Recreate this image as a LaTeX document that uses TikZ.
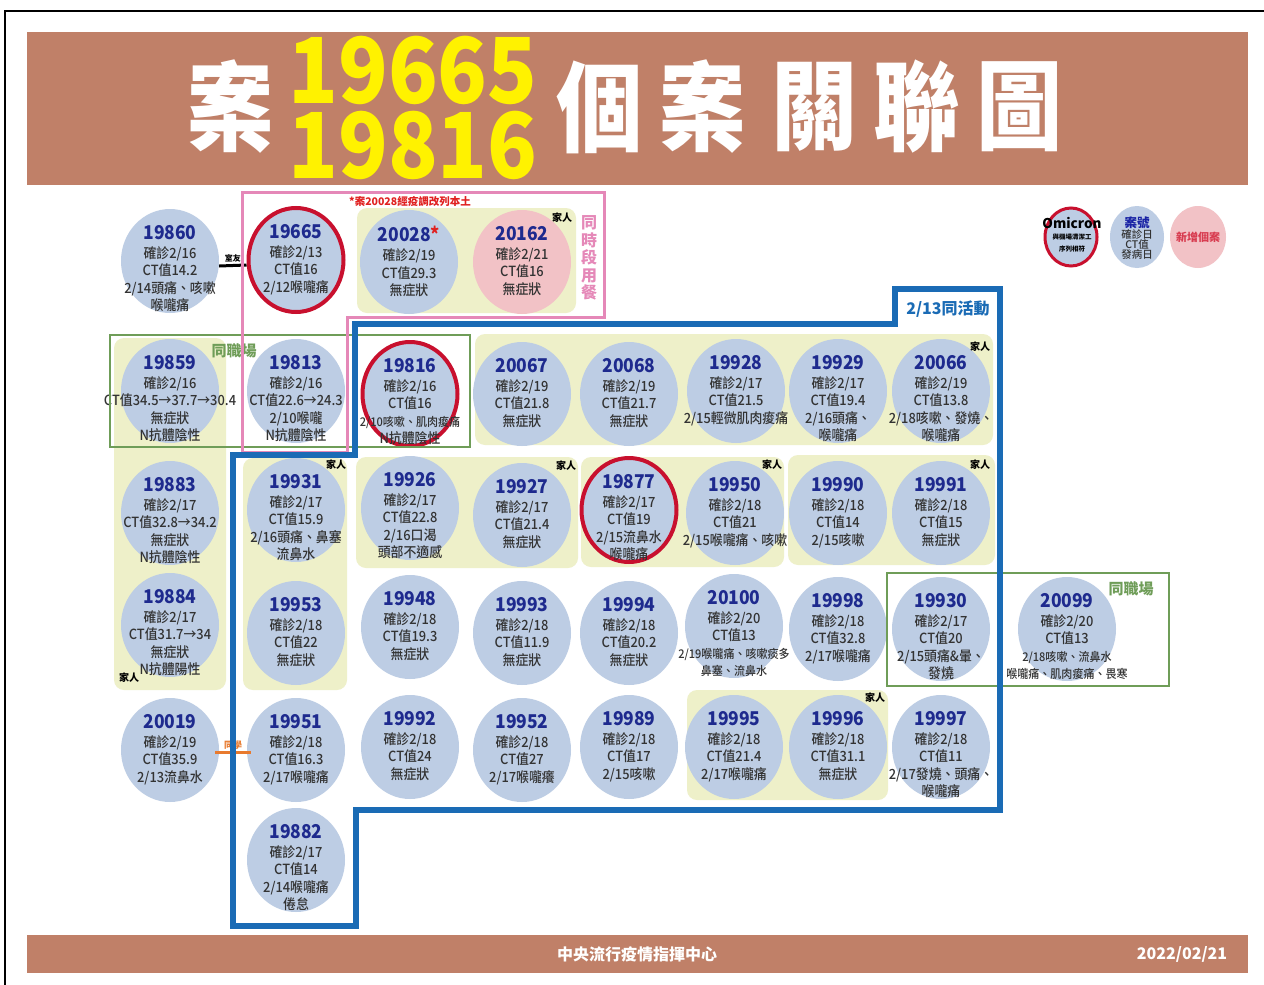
\documentclass[tikz,border=0pt]{standalone}
\usepackage{fontspec}
\newfontfamily\cjk{Noto Sans CJK TC}
\newfontfamily\cjkm{Noto Sans CJK TC Medium}
\usetikzlibrary{shapes.geometric,calc}
\definecolor{bandbrown}{HTML}{C08068}
\definecolor{ttlyellow}{HTML}{FFF200}
\definecolor{bubblue}{HTML}{BDCDE4}
\definecolor{numblue}{HTML}{1E2A8E}
\definecolor{txtgray}{HTML}{333333}
\definecolor{ybg}{HTML}{EEF0C9}
\definecolor{pinkfill}{HTML}{F2C2C6}
\definecolor{ringred}{HTML}{C8102E}
\definecolor{pinkline}{HTML}{E588B8}
\definecolor{blueline}{HTML}{1A6BB5}
\definecolor{grnline}{HTML}{6F9D58}
\definecolor{orangec}{HTML}{E87A2E}
\definecolor{starred}{HTML}{E02020}
\definecolor{newred}{HTML}{D83C50}
\newcommand\numf{\cjk\fontsize{19}{19}\selectfont\bfseries\color{numblue}}
\newcommand\sm{\fontsize{12}{15}\selectfont}
\tikzset{
  bub/.style={ellipse, fill=bubblue, minimum width=98pt, minimum height=104pt, inner sep=0pt},
  ringed/.style={draw=ringred, line width=4pt, minimum width=95pt, minimum height=104pt},
  ctx/.style={anchor=north, align=center, inner sep=0pt, xscale=0.92, text=txtgray,
    font=\cjkm\fontsize{14}{17.5}\selectfont},
  ybox/.style={fill=ybg, rounded corners=10pt},
  fam/.style={font=\cjk\bfseries\fontsize{10}{10}\selectfont, inner sep=0pt, text=black},
  grnbox/.style={draw=grnline, line width=2.5pt},
  grnlab/.style={font=\cjk\bfseries\fontsize{15}{15}\selectfont, text=grnline, inner sep=0pt},
  ttl/.style={font=\cjk\bfseries\fontsize{98}{98}\selectfont, inner sep=0pt, xscale=0.88, text=white},
  ttlnum/.style={font=\cjk\bfseries\fontsize{91}{91}\selectfont, inner sep=0pt, anchor=base, text=ttlyellow, xscale=0.9},
}
\newcommand\cs[6][]{%
  \node[bub,#1] (c#2) at (#3,#4) {};
  \node[ctx] (c#2t) at ($(c#2.center)+(0,-36)$) {{\numf #5}\\[1.5pt]#6};
}
\begin{document}
\begin{tikzpicture}[x=1pt,y=-1pt,font=\cjk]
\useasboundingbox (0,0) rectangle (1264,985);
\fill[white] (0,0) rectangle (1264,985);
% frame
\draw[line width=2pt] (5,985) -- (5,11) -- (1264,11);
% title band
\fill[bandbrown] (27,32) rectangle (1248,185);
\node[ttl] (tA) at (231,107) {案};
\node[ttlnum] (tn1) at (413,103) {19665};
\node[ttlnum] (tn2) at (413,178) {19816};
\node[ttl] (tB) at (600,107) {個};
\node[ttl] (tC) at (703,107) {案};
\node[ttl] (tD) at (815,107) {關};
\node[ttl] (tE) at (917,107) {聯};
\node[ttl] (tF) at (1020,107) {圖};
% footer
\fill[bandbrown] (27,935) rectangle (1248,973);
\node[font=\cjk\bfseries\fontsize{16}{16}\selectfont, text=white, inner sep=0pt] (foot1) at (637,954) {中央流行疫情指揮中心};
\node[font=\cjk\bfseries\fontsize{16}{16}\selectfont, text=white, inner sep=0pt] (foot2) at (1182,954) {2022/02/21};
% yellow backgrounds
\fill[ybox] (357,208) rectangle (576,313);
\fill[ybox] (114,338) rectangle (226,690);
\fill[ybox] (475,334) rectangle (993,445);
\fill[ybox] (243,458) rectangle (347,690);
\fill[ybox] (356,457) rectangle (578,568);
\fill[ybox] (581,457) rectangle (784,567);
\fill[ybox] (788,455) rectangle (995,565);
\fill[ybox] (687,690) rectangle (888,800);
% row 1
\cs{19860}{170}{261}{19860}{確診2/16\\CT值14.2\\2/14頭痛、咳嗽\\喉嚨痛}
\cs[ringed]{19665}{296}{260}{19665}{確診2/13\\CT值16\\2/12喉嚨痛}
\cs{20028}{409}{262}{20028\textcolor{starred}{*}}{確診2/19\\CT值29.3\\無症狀}
\cs[fill=pinkfill]{20162}{522}{262}{20162}{確診2/21\\CT值16\\無症狀}
% row 2
\cs{19859}{170}{391}{19859}{確診2/16\\CT值34.5→37.7→30.4\\無症狀\\N抗體陰性}
\cs{19813}{296}{391}{19813}{確診2/16\\CT值22.6→24.3\\2/10喉嚨\\N抗體陰性}
\cs[ringed]{19816}{410}{394}{19816}{確診2/16\\CT值16\\{\sm 2/10咳嗽、肌肉痠痛}\\N抗體陰性}
\cs{20067}{522}{394}{20067}{確診2/19\\CT值21.8\\無症狀}
\cs{20068}{629}{394}{20068}{確診2/19\\CT值21.7\\無症狀}
\cs{19928}{736}{391}{19928}{確診2/17\\CT值21.5\\2/15輕微肌肉痠痛}
\cs{19929}{838}{391}{19929}{確診2/17\\CT值19.4\\2/16頭痛、\\喉嚨痛}
\cs{20066}{941}{391}{20066}{確診2/19\\CT值13.8\\2/18咳嗽、發燒、\\喉嚨痛}
% row 3
\cs{19883}{170}{513}{19883}{確診2/17\\CT值32.8→34.2\\無症狀\\N抗體陰性}
\cs{19931}{296}{510}{19931}{確診2/17\\CT值15.9\\2/16頭痛、鼻塞\\流鼻水}
\cs{19926}{410}{508}{19926}{確診2/17\\CT值22.8\\2/16口渴\\頭部不適感}
\cs{19927}{522}{515}{19927}{確診2/17\\CT值21.4\\無症狀}
\cs[ringed]{19877}{629}{510}{19877}{確診2/17\\CT值19\\2/15流鼻水\\喉嚨痛}
\cs{19950}{735}{513}{19950}{確診2/18\\CT值21\\2/15喉嚨痛、咳嗽}
\cs{19990}{838}{513}{19990}{確診2/18\\CT值14\\2/15咳嗽}
\cs{19991}{941}{513}{19991}{確診2/18\\CT值15\\無症狀}
% row 4
\cs{19884}{170}{625}{19884}{確診2/17\\CT值31.7→34\\無症狀\\N抗體陽性}
\cs{19953}{296}{633}{19953}{確診2/18\\CT值22\\無症狀}
\cs{19948}{410}{627}{19948}{確診2/18\\CT值19.3\\無症狀}
\cs{19993}{522}{633}{19993}{確診2/18\\CT值11.9\\無症狀}
\cs{19994}{629}{633}{19994}{確診2/18\\CT值20.2\\無症狀}
\cs{20100}{734}{626}{20100}{確診2/20\\CT值13\\{\sm 2/19喉嚨痛、咳嗽痰多}\\{\sm 鼻塞、流鼻水}}
\cs{19998}{838}{629}{19998}{確診2/18\\CT值32.8\\2/17喉嚨痛}
\cs{19930}{941}{629}{19930}{確診2/17\\CT值20\\2/15頭痛\&暈、\\發燒}
\cs{20099}{1067}{629}{20099}{確診2/20\\CT值13\\{\sm 2/18咳嗽、流鼻水}\\{\sm 喉嚨痛、肌肉痠痛、畏寒}}
% row 5
\cs{20019}{170}{750}{20019}{確診2/19\\CT值35.9\\2/13流鼻水}
\cs{19951}{296}{750}{19951}{確診2/18\\CT值16.3\\2/17喉嚨痛}
\cs{19992}{410}{747}{19992}{確診2/18\\CT值24\\無症狀}
\cs{19952}{522}{750}{19952}{確診2/18\\CT值27\\2/17喉嚨癢}
\cs{19989}{629}{747}{19989}{確診2/18\\CT值17\\2/15咳嗽}
\cs{19995}{734}{747}{19995}{確診2/18\\CT值21.4\\2/17喉嚨痛}
\cs{19996}{838}{747}{19996}{確診2/18\\CT值31.1\\無症狀}
\cs{19997}{941}{747}{19997}{確診2/18\\CT值11\\2/17發燒、頭痛、\\喉嚨痛}
% row 6
\cs{19882}{296}{860}{19882}{確診2/17\\CT值14\\2/14喉嚨痛\\倦怠}
% legend
\node[bub, ringed, minimum width=52pt, minimum height=58pt, line width=3pt] (lg1) at (1071,237) {};
\node[align=center, inner sep=0pt, text=black] (lg1t) at (1072,235)
  {{\bfseries\fontsize{13.5}{13.5}\selectfont Omicron}\\[-1pt]{\bfseries\fontsize{6.5}{8.5}\selectfont 與機場清潔工}\\{\bfseries\fontsize{6.5}{8.5}\selectfont 序列相符}};
\node[bub, minimum width=54pt, minimum height=62pt] (lg2) at (1137,237) {};
\node[align=center, inner sep=0pt, text=txtgray, font=\cjkm\fontsize{10.5}{10}\selectfont] (lg2t) at (1137,238)
  {{\cjk\bfseries\fontsize{12.5}{12}\selectfont\color{numblue!80!blue}案號}\\確診日\\CT值\\發病日};
\node[bub, fill=pinkfill, minimum width=56pt, minimum height=62pt] (lg3) at (1198,237) {};
\node[inner sep=0pt, text=newred, font=\cjk\bfseries\fontsize{11}{11}\selectfont] (lg3t) at (lg3) {新增個案};
% connectors
\draw[line width=3pt, black] ($(c19860.east)+(0,5)$) -- ($(c19665.west)+(0,5)$)
  node[midway, above=2pt, fam, font=\cjk\bfseries\fontsize{8}{8}\selectfont] (lroom) {室友};
\draw[line width=3pt, orangec] ($(c20019.east)+(-4,2)$) -- ($(c19951.west)+(4,2)$)
  node[midway, above=1pt, inner sep=0pt, text=orangec, font=\cjk\bfseries\fontsize{9}{9}\selectfont] (lclass) {同學};
% green boxes
\draw[grnbox] (110,335) rectangle (470,447);
\node[grnlab] (g1) at (234,351) {同職場};
\draw[grnbox] (887,573) rectangle (1169,686);
\node[grnlab] (g2) at (1131,589) {同職場};
% pink outline
\draw[draw=pinkline, line width=3pt] (242,192) -- (604,192) -- (604,317) -- (347,317) -- (347,452) -- (242,452) -- cycle;
\node[inner sep=0pt, text=starred, font=\cjk\bfseries\fontsize{10.5}{10.5}\selectfont] (note) at (410,201) {*案20028經疫調改列本土};
\node[align=center, inner sep=0pt, text=pinkline, font=\cjk\bfseries\fontsize{16}{17.5}\selectfont] (meal) at (589,258) {同\\時\\段\\用\\餐};
% blue outline
\draw[draw=blueline, line width=6pt, line join=miter] (355,324) -- (895,324) -- (895,289) -- (1000,289) -- (1000,810) -- (356,810) -- (356,926) -- (233,926) -- (233,455) -- (355,455) -- cycle;
\node[inner sep=0pt, text=blueline, font=\cjk\bfseries\fontsize{16}{16}\selectfont] (act) at (948,309) {2/13同活動};
% family labels
\node[fam] (f1) at (562,218) {家人};
\node[fam] (f2) at (980,347) {家人};
\node[fam] (f3) at (336,465) {家人};
\node[fam] (f4) at (566,466) {家人};
\node[fam] (f5) at (772,465) {家人};
\node[fam] (f6) at (980,465) {家人};
\node[fam] (f7) at (875,698) {家人};
\node[fam] (f8) at (129,678) {家人};
\end{tikzpicture}
\end{document}
